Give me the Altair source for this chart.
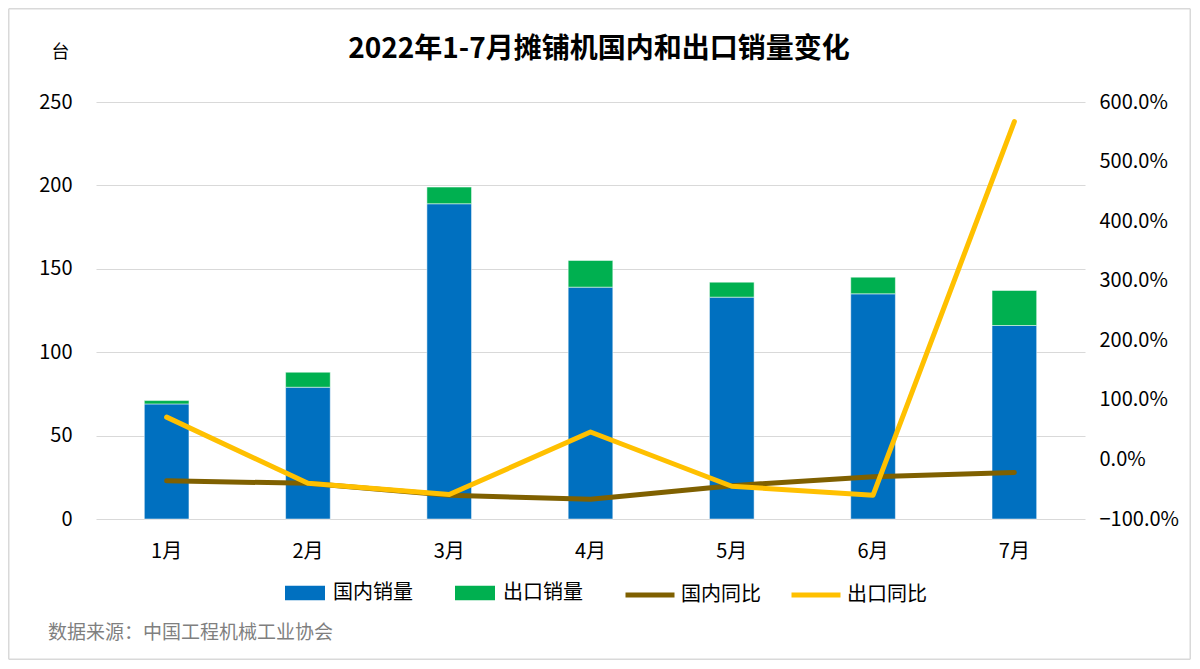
import altair as alt
import pandas as pd

months = ["1月", "2月", "3月", "4月", "5月", "6月", "7月"]
domestic = [69, 79, 189, 139, 133, 135, 116]
export = [2, 9, 10, 16, 9, 10, 21]
domestic_yoy = [-0.36, -0.40, -0.60, -0.67, -0.44, -0.29, -0.22]
export_yoy = [0.71, -0.40, -0.59, 0.46, -0.45, -0.60, 5.67]

bar_series = ["国内销量", "出口销量"]
line_series = ["国内同比", "出口同比"]
bar_colors = ["#0070C0", "#00B050"]
line_colors = ["#7F6000", "#FFC000"]
title_text = "2022年1-7月摊铺机国内和出口销量变化"
unit_text = "台"
source_text = "数据来源：中国工程机械工业协会"

FONT = "Noto Sans CJK SC"

bars_df = pd.DataFrame({
    "month": months * 2,
    "series": [bar_series[0]] * 7 + [bar_series[1]] * 7,
    "order": [0] * 7 + [1] * 7,
    "value": domestic + export,
})
lines_df = pd.DataFrame({
    "month": months * 2,
    "series": [line_series[0]] * 7 + [line_series[1]] * 7,
    "value": domestic_yoy + export_yoy,
})

x_enc = alt.X(
    "month:N", sort=months, title=None,
    scale=alt.Scale(paddingInner=0.684, paddingOuter=0.342),
    axis=alt.Axis(labelAngle=0, labelFontSize=20, labelFont=FONT, labelColor="#000000",
                  ticks=False, domain=False, labelPadding=22, grid=False),
)

rect_symbol = "M-1,-0.36L1,-0.36L1,0.36L-1,0.36Z"

bars = alt.Chart(bars_df).mark_bar(stroke="#ffffff", strokeWidth=0.5).encode(
    x=x_enc,
    y=alt.Y("value:Q", stack="zero",
            scale=alt.Scale(domain=[0, 250]),
            axis=alt.Axis(values=[0, 50, 100, 150, 200, 250], labelFontSize=20, labelFont=FONT,
                          labelColor="#000000", ticks=False, domain=False, labelPadding=24,
                          gridColor="#D9D9D9", gridWidth=1,
                          title=unit_text, titleAngle=0, titleX=-36, titleY=-50,
                          titleAlign="center", titleBaseline="middle", titleFontSize=18,
                          titleFontWeight="normal", titleFont=FONT, titleColor="#000000")),
    fill=alt.Fill("series:N", sort=bar_series,
                  scale=alt.Scale(domain=bar_series, range=bar_colors),
                  legend=alt.Legend(title=None, orient="none", legendX=189, legendY=471,
                                    direction="horizontal", symbolType=rect_symbol,
                                    symbolSize=1600, symbolStrokeWidth=0, labelFontSize=20,
                                    labelFont=FONT, labelColor="#000000", labelOffset=8,
                                    columnPadding=42, padding=0)),
    order=alt.Order("order:Q"),
)

lines = alt.Chart(lines_df).mark_line(strokeWidth=5, strokeJoin="round", strokeCap="round").encode(
    x=x_enc,
    y=alt.Y("value:Q", scale=alt.Scale(domain=[-1, 6]),
            axis=alt.Axis(orient="right", values=[-1, 0, 1, 2, 3, 4, 5, 6], format=".1%",
                          labelFontSize=20, labelFont=FONT, labelColor="#000000",
                          ticks=False, domain=False, grid=False, labelPadding=14, title=None)),
    stroke=alt.Stroke("series:N", sort=line_series,
                      scale=alt.Scale(domain=line_series, range=line_colors),
                      legend=alt.Legend(title=None, orient="none", legendX=527, legendY=466,
                                        direction="horizontal", symbolType="stroke",
                                        symbolSize=2401, symbolStrokeWidth=5, labelFontSize=20,
                                        labelFont=FONT, labelColor="#000000", labelOffset=4,
                                        columnPadding=20, padding=0)),
    detail="series:N",
)

source = alt.Chart(pd.DataFrame({"t": [source_text]})).mark_text(
    align="left", baseline="middle", fontSize=19, font=FONT, color="#7F7F7F"
).encode(x=alt.value(-48), y=alt.value(531), text="t:N")

title = alt.Chart(pd.DataFrame({"t": [title_text]})).mark_text(
    align="center", baseline="middle", fontSize=28, font=FONT, fontWeight="bold", color="#000000"
).encode(x=alt.value(503), y=alt.value(-52), text="t:N")

edge = pd.DataFrame({"t": [0]})
bstyle = dict(color="#D9D9D9", strokeWidth=1.5)
L, R, T, B = -87.25, 1094.25, -93.25, 557.25
top_edge = alt.Chart(edge).mark_rule(**bstyle).encode(
    x=alt.value(L), x2=alt.value(R), y=alt.value(T))
bottom_edge = alt.Chart(edge).mark_rule(**bstyle).encode(
    x=alt.value(L), x2=alt.value(R), y=alt.value(B))
left_edge = alt.Chart(edge).mark_rule(**bstyle).encode(
    x=alt.value(L), y=alt.value(T), y2=alt.value(B))
right_edge = alt.Chart(edge).mark_rule(**bstyle).encode(
    x=alt.value(R), y=alt.value(T), y2=alt.value(B))

chart = alt.layer(top_edge, bottom_edge, left_edge, right_edge, bars, lines, source, title).resolve_scale(
    y="independent", fill="independent", stroke="independent"
).properties(
    width=989, height=417,
    padding={"left": 88, "top": 94, "right": 107, "bottom": 142},
    autosize=alt.AutoSizeParams(type="none"),
).configure(background="#FFFFFF").configure_view(stroke=None)

chart.save("out.html", embed_options={"renderer": "svg", "actions": False})
